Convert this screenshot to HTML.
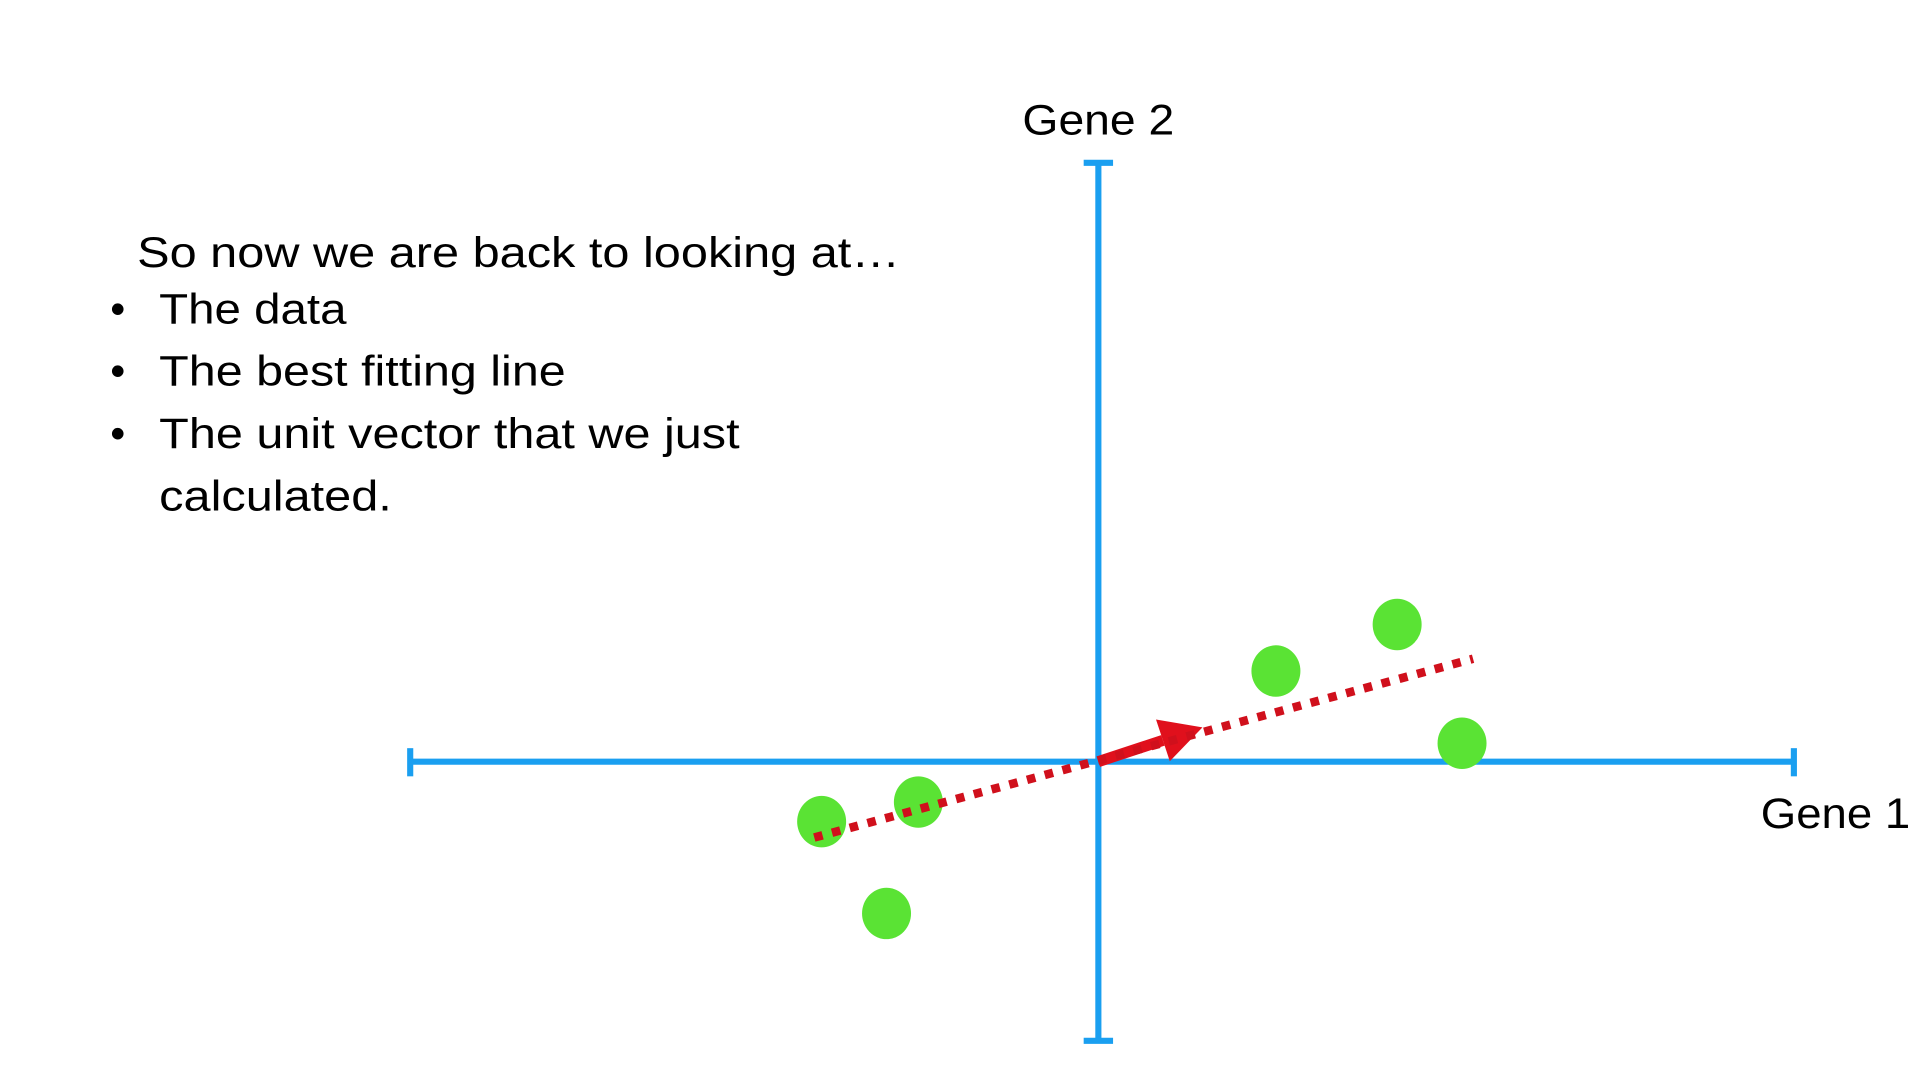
<!DOCTYPE html>
<html><head><meta charset="utf-8"><style>
html,body{margin:0;padding:0;background:#fff;width:1920px;height:1080px;overflow:hidden}
svg{display:block}
text{font-family:"Liberation Sans",sans-serif;fill:#000;font-size:35px}
</style></head><body>
<svg id="chart" width="1920" height="1080" viewBox="0 0 1568 882" xmlns="http://www.w3.org/2000/svg">
<g>
<text x="112" y="218" textLength="623" lengthAdjust="spacingAndGlyphs">So now we are back to looking at…</text>
<text x="90" y="264">•</text>
<text x="130" y="264" textLength="153" lengthAdjust="spacingAndGlyphs">The data</text>
<text x="90" y="315">•</text>
<text x="130" y="315" textLength="332" lengthAdjust="spacingAndGlyphs">The best fitting line</text>
<text x="90" y="366">•</text>
<text x="130" y="366" textLength="474" lengthAdjust="spacingAndGlyphs">The unit vector that we just</text>
<text x="130" y="417" textLength="190" lengthAdjust="spacingAndGlyphs">calculated.</text>
</g>
<g id="axes">
<line x1="335" y1="622" x2="1465" y2="622" stroke="#1a9ff0" stroke-width="5"/>
<line x1="335" y1="611" x2="335" y2="634" stroke="#1a9ff0" stroke-width="5"/>
<line x1="1465" y1="611" x2="1465" y2="634" stroke="#1a9ff0" stroke-width="5"/>
<line x1="897" y1="133" x2="897" y2="850" stroke="#1a9ff0" stroke-width="5"/>
<line x1="885" y1="133" x2="909" y2="133" stroke="#1a9ff0" stroke-width="5"/>
<line x1="885" y1="850" x2="909" y2="850" stroke="#1a9ff0" stroke-width="5"/>
<text x="835" y="110" textLength="124" lengthAdjust="spacingAndGlyphs">Gene 2</text>
<text x="1438" y="676" textLength="122" lengthAdjust="spacingAndGlyphs">Gene 1</text>
</g>
<g id="marks"></g>
</svg>
<script>
const pointX = [-226, -147, -173, 145, 244, 297];
const pointY = [-49, -33, -124, 74, 112, 15];
const fitLineX = [-232, 306];
const fitLineY = [-62, 84];
const unitVectorX = [0, 85];
const unitVectorY = [0, 28];
const ox = 897, oy = 622;
function sx(v){return ox + v;}
function sy(v){return oy - v;}
const NS = "http://www.w3.org/2000/svg";
const g = document.getElementById('marks');
for (let i = 0; i < pointX.length; i++) {
  const c = document.createElementNS(NS, 'ellipse');
  c.setAttribute('cx', sx(pointX[i]));
  c.setAttribute('cy', sy(pointY[i]));
  c.setAttribute('rx', 20);
  c.setAttribute('ry', 21);
  c.setAttribute('fill', '#5ae334');
  
  
  g.appendChild(c);
}
const ax0 = sx(unitVectorX[0]), ay0 = sy(unitVectorY[0]), ax1 = sx(unitVectorX[1]), ay1 = sy(unitVectorY[1]);
const ang = Math.atan2(ay1 - ay0, ax1 - ax0);
const hl = 34, hw = 18;
const bx = ax1 - hl * Math.cos(ang), by = ay1 - hl * Math.sin(ang);
const shaft = document.createElementNS(NS, 'line');
shaft.setAttribute('x1', ax0); shaft.setAttribute('y1', ay0);
shaft.setAttribute('x2', bx); shaft.setAttribute('y2', by);
shaft.setAttribute('stroke', '#e0101c'); shaft.setAttribute('stroke-width', 9);


g.appendChild(shaft);
const head = document.createElementNS(NS, 'polygon');
const px = -Math.sin(ang), py = Math.cos(ang);
head.setAttribute('points', `${ax1},${ay1} ${bx + hw*px},${by + hw*py} ${bx - hw*px},${by - hw*py}`);
head.setAttribute('fill', '#e0101c');


g.appendChild(head);
const fl = document.createElementNS(NS, 'line');
fl.setAttribute('x1', sx(fitLineX[0])); fl.setAttribute('y1', sy(fitLineY[0]));
fl.setAttribute('x2', sx(fitLineX[1])); fl.setAttribute('y2', sy(fitLineY[1]));
fl.setAttribute('stroke', '#d0101c'); fl.setAttribute('stroke-width', 7);
fl.setAttribute('stroke-dasharray', '7 8');


g.appendChild(fl);
</script>
</body></html>
